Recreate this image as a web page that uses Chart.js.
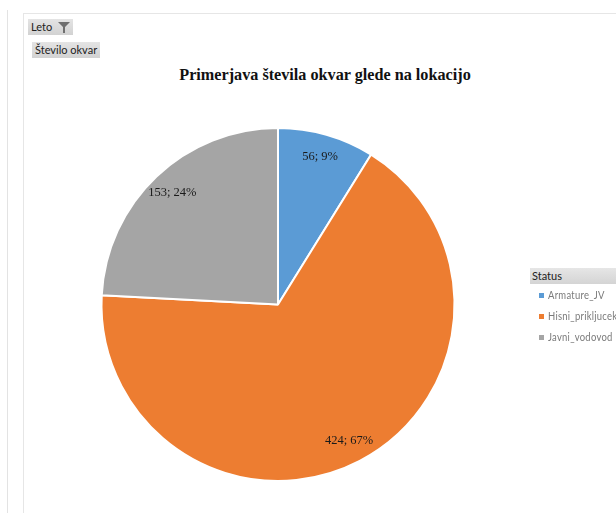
<!DOCTYPE html>
<html>
<head>
<meta charset="utf-8">
<script src="https://cdn.jsdelivr.net/npm/chart.js@4"></script>
<style>
  body { margin: 0; background: #fff; width: 616px; height: 513px; overflow: hidden; position: relative; font-family: "Open Sans", "DejaVu Sans", sans-serif; }
  .side-line { position: absolute; left: 7px; top: 10px; bottom: 0; border-left: 1px solid #e3e3e3; }
  .frame { position: absolute; left: 23px; top: 13px; right: 0; bottom: 0; border-left: 1px solid #e6e6e6; border-top: 1px solid #e6e6e6; }
  .btn { position: absolute; background: linear-gradient(#e4e4e4, #d2d2d2); font: 11px Lato, sans-serif; color: #222; height: 16px; line-height: 16px; padding: 0 3px; white-space: nowrap; }
  #chartTitle { position: absolute; left: 140px; width: 370px; top: 66px; text-align: center; font: bold 16.2px "Liberation Serif", serif; color: #111; }
  #wrap { position: absolute; left: 24px; top: 14px; width: 592px; height: 499px; }
  .legend { position: absolute; left: 530px; top: 268px; width: 86px; font: 11px Lato, sans-serif; }
  .legend .head { background: linear-gradient(#e6e6e6, #d4d4d4); color: #222; height: 16px; line-height: 16px; padding-left: 2px; }
  .legend .item { color: #7a7a7a; height: 21px; line-height: 21px; padding-left: 9px; white-space: nowrap; }
  .legend .item .txt { display: inline-block; transform: scaleX(0.86); transform-origin: left center; letter-spacing: 0.3px; }
  .legend .sw { display: inline-block; width: 5px; height: 5px; margin-right: 4px; vertical-align: 1px; }
</style>
</head>
<body>
<div class="side-line"></div>
<div class="frame"></div>
<div class="btn" style="left:28px; top:19px; width:39px;">Leto
  <svg width="12" height="11" viewBox="0 0 12 11" style="position:absolute; left:30px; top:3px;"><path d="M0 0 H12 L7 5 V11 H5 V5 Z" fill="#6f6f6f"/></svg>
</div>
<div class="btn" style="left:32px; top:42px;">Število okvar</div>
<div id="chartTitle">Primerjava števila okvar glede na lokacijo</div>
<div id="wrap"><canvas id="pie"></canvas></div>
<div class="legend" id="legend"><div class="head">Status</div></div>

<script>
const categories = ['Armature_JV', 'Hisni_prikljucek', 'Javni_vodovod'];
const counts = [56, 424, 153];
const colors = ['#5b9bd5', '#ed7d31', '#a5a5a5'];

// legenda (HTML, kot v Excelu)
const legend = document.getElementById('legend');
categories.forEach((c, i) => {
    const row = document.createElement('div');
    row.className = 'item';
    row.innerHTML = '<span class="sw" style="background:' + colors[i] + '"></span><span class="txt">' + c + '</span>';
    legend.appendChild(row);
});

// oznake "vrednost; odstotek" na rezinah
const sliceLabels = {
    id: 'sliceLabels',
    afterDatasetsDraw(chart) {
        const ctx = chart.ctx;
        const meta = chart.getDatasetMeta(0);
        const total = counts.reduce((a, b) => a + b, 0);
        ctx.save();
        ctx.font = '12.5px "Liberation Serif", serif';
        ctx.fillStyle = '#1a1a1a';
        ctx.textAlign = 'center';
        ctx.textBaseline = 'middle';
        meta.data.forEach((arc, i) => {
            const mid = (arc.startAngle + arc.endAngle) / 2;
            const r = arc.outerRadius * 0.87;
            const x = arc.x + Math.cos(mid) * r;
            const y = arc.y + Math.sin(mid) * r;
            const pct = Math.round(counts[i] / total * 100);
            ctx.fillText(counts[i] + '; ' + pct + '%', x, y);
        });
        ctx.restore();
    }
};

new Chart(document.getElementById('pie'), {
    type: 'pie',
    data: {
        labels: categories,
        datasets: [{
            data: counts,
            backgroundColor: colors,
            borderColor: '#ffffff',
            borderWidth: 2
        }]
    },
    options: {
        responsive: true,
        maintainAspectRatio: false,
        animation: false,
        layout: { padding: { top: 113, bottom: 31, left: 0, right: 84 } },
        plugins: {
            legend: { display: false },
            tooltip: { enabled: false }
        }
    },
    plugins: [sliceLabels]
});
</script>
</body>
</html>
